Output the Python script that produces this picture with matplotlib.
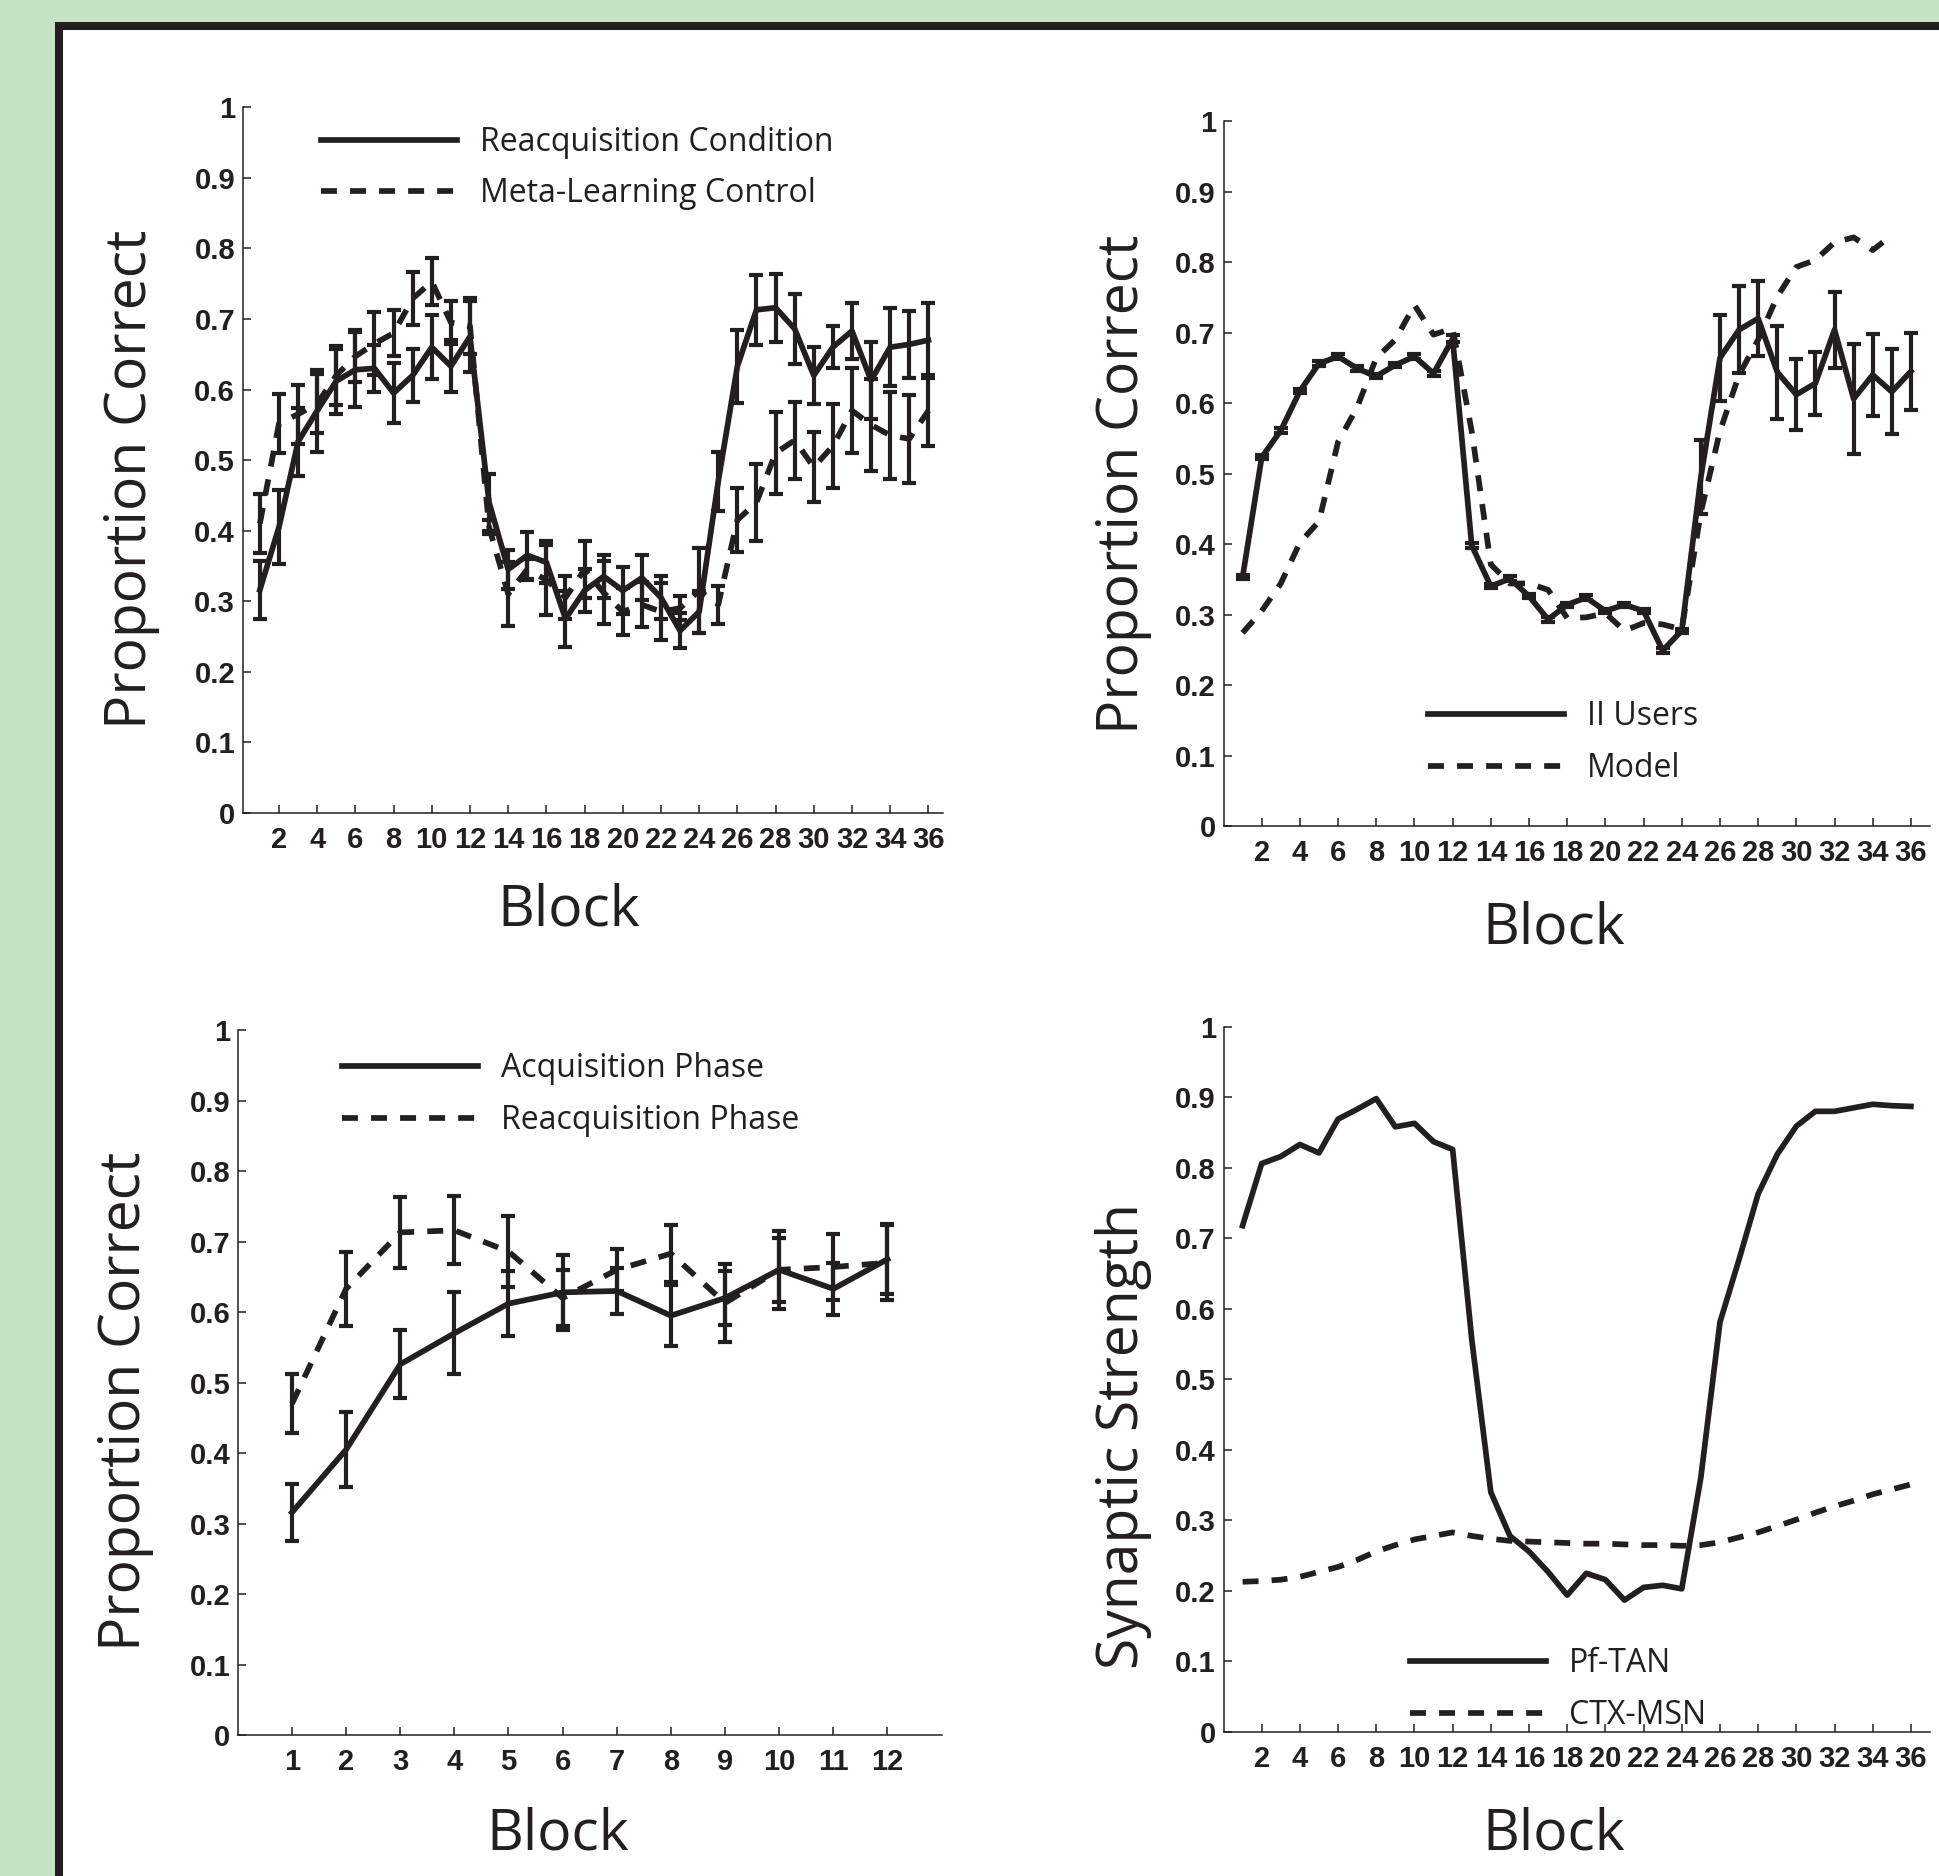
import numpy as np
import matplotlib
matplotlib.use("Agg")
import matplotlib.pyplot as plt
from matplotlib.patches import Rectangle
from matplotlib.font_manager import FontProperties

# ---------------- data ----------------
blocks = np.arange(1, 37)

# top-left: reacquisition condition vs meta-learning control
reacq_cond = [0.316, 0.405, 0.526, 0.570, 0.612, 0.628, 0.630, 0.595, 0.620, 0.660, 0.633, 0.675,
              0.440, 0.345, 0.365, 0.355, 0.275, 0.315, 0.335, 0.315, 0.333, 0.305, 0.258, 0.285,
              0.470, 0.633, 0.713, 0.716, 0.686, 0.620, 0.660, 0.683, 0.613, 0.660, 0.664, 0.670]
reacq_cond_err = [0.041, 0.053, 0.048, 0.058, 0.046, 0.053, 0.033, 0.043, 0.038, 0.045, 0.037, 0.050,
                  0.040, 0.028, 0.033, 0.030, 0.040, 0.030, 0.030, 0.033, 0.032, 0.030, 0.025, 0.030,
                  0.042, 0.052, 0.050, 0.048, 0.050, 0.040, 0.030, 0.040, 0.055, 0.055, 0.047, 0.053]
meta_ctrl = [0.410, 0.552, 0.565, 0.580, 0.620, 0.647, 0.665, 0.680, 0.729, 0.753, 0.695, 0.690,
             0.405, 0.310, 0.345, 0.330, 0.305, 0.345, 0.312, 0.285, 0.295, 0.285, 0.290, 0.315,
             0.295, 0.415, 0.440, 0.510, 0.528, 0.490, 0.520, 0.570, 0.550, 0.535, 0.530, 0.570]
meta_ctrl_err = [0.042, 0.042, 0.042, 0.042, 0.042, 0.037, 0.045, 0.033, 0.037, 0.033, 0.030, 0.040,
                 0.010, 0.045, 0.015, 0.050, 0.030, 0.040, 0.045, 0.033, 0.032, 0.040, 0.017, 0.060,
                 0.027, 0.045, 0.055, 0.058, 0.055, 0.050, 0.060, 0.060, 0.065, 0.062, 0.062, 0.050]

# top-right: II users vs model
ii_users = [0.353, 0.523, 0.561, 0.617, 0.656, 0.666, 0.649, 0.638, 0.654, 0.666, 0.642, 0.691,
            0.398, 0.340, 0.351, 0.326, 0.293, 0.314, 0.324, 0.305, 0.314, 0.305, 0.249, 0.277,
            0.495, 0.664, 0.704, 0.720, 0.644, 0.612, 0.628, 0.704, 0.606, 0.640, 0.616, 0.645]
ii_users_err = [0.003] * 11 + [0.005] + [0.003] * 12 + \
               [0.053, 0.061, 0.062, 0.053, 0.066, 0.050, 0.045, 0.054, 0.078, 0.058, 0.060, 0.055]
model_blocks = np.arange(1, 36)
model = [0.274, 0.305, 0.344, 0.402, 0.432, 0.545, 0.594, 0.664, 0.690, 0.739, 0.697, 0.706,
         0.560, 0.371, 0.344, 0.344, 0.335, 0.295, 0.296, 0.302, 0.277, 0.288, 0.286, 0.279,
         0.445, 0.560, 0.640, 0.690, 0.751, 0.793, 0.803, 0.828, 0.835, 0.817, 0.838]

# bottom-left: acquisition phase (blocks 1-12) vs reacquisition phase (blocks 25-36)
phase_blocks = np.arange(1, 13)
acq_phase = reacq_cond[:12]
acq_phase_err = reacq_cond_err[:12]
reacq_phase = reacq_cond[24:]
reacq_phase_err = reacq_cond_err[24:]

# bottom-right: synaptic strengths
pf_tan = [0.718, 0.806, 0.816, 0.833, 0.821, 0.869, 0.883, 0.898, 0.858, 0.863, 0.837, 0.826,
          0.557, 0.340, 0.278, 0.256, 0.227, 0.194, 0.225, 0.216, 0.187, 0.205, 0.208, 0.203,
          0.361, 0.581, 0.670, 0.763, 0.819, 0.859, 0.880, 0.880, 0.885, 0.890, 0.888, 0.887]
ctx_msn = [0.213, 0.214, 0.216, 0.220, 0.227, 0.234, 0.244, 0.256, 0.265, 0.273, 0.278, 0.283,
           0.278, 0.274, 0.271, 0.270, 0.269, 0.268, 0.267, 0.267, 0.266, 0.265, 0.265, 0.264,
           0.265, 0.269, 0.276, 0.283, 0.292, 0.301, 0.311, 0.320, 0.328, 0.337, 0.344, 0.351]

ytick_vals = np.round(np.arange(0, 1.01, 0.1), 1)
ytick_labels = ["0", "0.1", "0.2", "0.3", "0.4", "0.5", "0.6", "0.7", "0.8", "0.9", "1"]

# ---------------- style ----------------
W, H = 1939, 1876
INK = "#231f20"
GREEN = "#c5e3c4"
LW = 4.1
DASH = (0, (2.8, 2.3))
TICK_FONT = "Liberation Sans"
LABEL_FONT = "Open Sans"

fig = plt.figure(figsize=(W / 100, H / 100), dpi=100, facecolor=GREEN)
# black framed white panel, kept behind the axes
fig.patches.append(Rectangle((55 / W, 0), 1, 1 - 22 / H, transform=fig.transFigure,
                             facecolor=INK, edgecolor="none", zorder=-10))
fig.patches.append(Rectangle((63 / W, 0), 1, 1 - 30 / H, transform=fig.transFigure,
                             facecolor="white", edgecolor="none", zorder=-9))


def make_axes(left, top, right, bottom):
    ax = fig.add_axes([left / W, 1 - bottom / H, (right - left) / W, (bottom - top) / H])
    ax.box_px = (left, top, right, bottom)
    return ax


def to_axes(ax, px, py):
    left, top, right, bottom = ax.box_px
    return (px - left) / (right - left), (bottom - py) / (bottom - top)


def style_axes(ax, xlim, xticks):
    ax.set_xlim(*xlim)
    ax.set_ylim(0, 1)
    ax.set_xticks(xticks)
    ax.set_xticklabels([str(t) for t in xticks])
    ax.set_yticks(ytick_vals)
    ax.set_yticklabels(ytick_labels)
    for s in ("top", "right"):
        ax.spines[s].set_visible(False)
    for s in ("left", "bottom"):
        ax.spines[s].set_linewidth(1.1)
        ax.spines[s].set_color(INK)
    ax.tick_params(direction="in", length=5.5, width=1.1, color=INK,
                   labelsize=21, labelcolor=INK)
    ax.tick_params(axis="x", pad=9.5)
    ax.tick_params(axis="y", pad=5.5)
    for lab in ax.get_xticklabels() + ax.get_yticklabels():
        lab.set_fontfamily(TICK_FONT)
        lab.set_fontweight("bold")
    ax.patch.set_alpha(0)


def add_labels(ax, ylabel, ycenter, xcenter):
    ax.set_ylabel(ylabel, family=LABEL_FONT, fontsize=41, color=INK, va="center")
    ax.yaxis.set_label_coords(*to_axes(ax, *ycenter))
    ax.set_xlabel("Block", family=LABEL_FONT, fontsize=41, color=INK, va="baseline")
    ax.xaxis.set_label_coords(*to_axes(ax, *xcenter))


def add_legend(ax, handles, labels, anchor):
    ax.legend(handles, labels, loc="center left", bbox_to_anchor=to_axes(ax, *anchor),
              frameon=False, borderpad=0, borderaxespad=0, handlelength=4.26,
              handletextpad=0.72, labelspacing=0.58, labelcolor=INK,
              prop=FontProperties(family=LABEL_FONT, size=23))


def err(ax, x, y, e):
    ax.errorbar(x, y, yerr=e, fmt="none", ecolor=INK, elinewidth=3.0,
                capsize=4.8, capthick=3.0)


# ---- top-left ----
ax1 = make_axes(242.7, 107.4, 942.5, 812.7)
l1, = ax1.plot(blocks, reacq_cond, color=INK, lw=LW)
err(ax1, blocks, reacq_cond, reacq_cond_err)
l2, = ax1.plot(blocks, meta_ctrl, color=INK, lw=LW, linestyle=DASH)
err(ax1, blocks, meta_ctrl, meta_ctrl_err)
style_axes(ax1, (0.1, 36.74), list(range(2, 37, 2)))
add_labels(ax1, "Proportion Correct", (131, 479), (569, 925))
add_legend(ax1, [l1, l2], ["Reacquisition Condition", "Meta-Learning Control"], (321, 168))

# ---- top-right ----
ax2 = make_axes(1223.5, 121.1, 1930, 826)
l1, = ax2.plot(blocks, ii_users, color=INK, lw=LW)
err(ax2, blocks, ii_users, ii_users_err)
l2, = ax2.plot(model_blocks, model, color=INK, lw=LW, linestyle=DASH)
style_axes(ax2, (0, 37), list(range(2, 37, 2)))
add_labels(ax2, "Proportion Correct", (1124, 484), (1554, 943.5))
add_legend(ax2, [l1, l2], ["II Users", "Model"], (1428, 742.5))

# ---- bottom-left ----
ax3 = make_axes(237.8, 1030, 941.6, 1735.3)
l1, = ax3.plot(phase_blocks, acq_phase, color=INK, lw=LW)
err(ax3, phase_blocks, acq_phase, acq_phase_err)
l2, = ax3.plot(phase_blocks, reacq_phase, color=INK, lw=LW, linestyle=DASH)
err(ax3, phase_blocks, reacq_phase, reacq_phase_err)
style_axes(ax3, (0, 13), list(range(1, 13)))
add_labels(ax3, "Proportion Correct", (125.6, 1401.7), (558, 1849))
add_legend(ax3, [l1, l2], ["Acquisition Phase", "Reacquisition Phase"], (342, 1094.5))

# ---- bottom-right ----
ax4 = make_axes(1223.5, 1026.7, 1930, 1732)
l1, = ax4.plot(blocks, pf_tan, color=INK, lw=LW)
l2, = ax4.plot(blocks, ctx_msn, color=INK, lw=LW, linestyle=DASH)
style_axes(ax4, (0, 37), list(range(2, 37, 2)))
add_labels(ax4, "Synaptic Strength", (1123, 1436), (1554, 1849))
add_legend(ax4, [l1, l2], ["Pf-TAN", "CTX-MSN"], (1410, 1689.5))

fig.savefig("out.png", dpi=100, facecolor=GREEN)
